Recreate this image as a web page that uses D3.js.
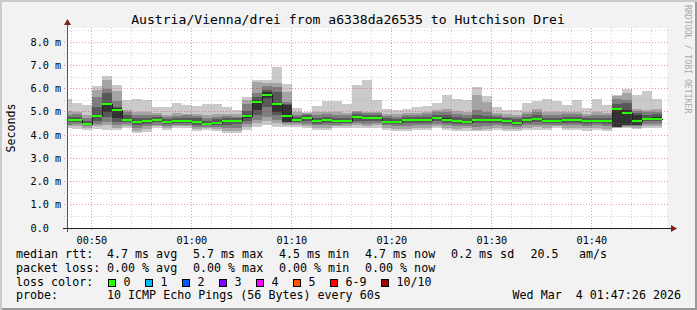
<!DOCTYPE html>
<html>
<head>
<meta charset="utf-8">
<script src="https://cdn.jsdelivr.net/npm/d3@7"></script>
<style>
  body { margin: 0; background: #f0f0f0; }
  text { font-family: "DejaVu Sans Mono", monospace; fill: #000; }
</style>
</head>
<body>
<svg id="chart" width="697" height="310"></svg>
<script>
// minute buckets (start of each 60s step)
var minutes = ["00:47","00:48","00:49","00:50","00:51","00:52","00:53","00:54","00:55","00:56",
  "00:57","00:58","00:59","01:00","01:01","01:02","01:03","01:04","01:05","01:06",
  "01:07","01:08","01:09","01:10","01:11","01:12","01:13","01:14","01:15","01:16",
  "01:17","01:18","01:19","01:20","01:21","01:22","01:23","01:24","01:25","01:26",
  "01:27","01:28","01:29","01:30","01:31","01:32","01:33","01:34","01:35","01:36",
  "01:37","01:38","01:39","01:40","01:41","01:42","01:43","01:44","01:45","01:46"];

// 10 sorted ping rtts per step, in ms
var pings = [
  [4.30,4.38,4.45,4.55,4.62,4.70,4.78,4.88,5.05,5.56],
  [4.28,4.38,4.48,4.56,4.63,4.70,4.80,4.90,5.00,5.40],
  [4.22,4.30,4.38,4.44,4.48,4.53,4.62,4.72,4.85,5.30],
  [4.25,4.40,4.50,4.62,4.78,4.88,5.23,5.65,5.95,6.10],
  [4.23,4.44,4.58,4.80,4.99,5.37,5.80,6.00,6.40,6.55],
  [4.23,4.30,4.44,4.59,4.73,5.16,5.23,5.49,5.90,6.15],
  [4.30,4.40,4.48,4.56,4.62,4.70,4.85,5.00,5.10,5.50],
  [4.10,4.20,4.32,4.45,4.53,4.62,4.72,4.85,5.00,5.58],
  [4.15,4.25,4.38,4.50,4.57,4.66,4.75,4.88,5.02,5.50],
  [4.30,4.38,4.46,4.55,4.62,4.70,4.78,4.85,4.95,5.23],
  [4.23,4.32,4.40,4.48,4.54,4.62,4.70,4.78,4.88,5.23],
  [4.30,4.38,4.45,4.52,4.57,4.64,4.72,4.82,4.95,5.40],
  [4.30,4.38,4.45,4.52,4.57,4.65,4.75,4.85,4.92,5.30],
  [4.16,4.25,4.35,4.45,4.53,4.62,4.72,4.82,4.92,5.26],
  [4.23,4.30,4.36,4.42,4.46,4.53,4.62,4.72,4.85,5.34],
  [4.16,4.25,4.35,4.44,4.50,4.58,4.68,4.78,4.90,5.34],
  [4.08,4.18,4.30,4.45,4.56,4.66,4.74,4.82,4.92,5.20],
  [4.10,4.20,4.32,4.47,4.57,4.65,4.72,4.80,4.90,5.09],
  [4.23,4.35,4.48,4.62,4.76,4.88,5.05,5.34,5.50,5.63],
  [4.37,4.51,4.66,4.87,5.09,5.51,5.66,5.80,6.29,6.37],
  [4.43,4.60,4.80,5.20,5.60,5.85,5.95,6.10,6.26,6.37],
  [4.37,4.51,4.66,4.87,5.01,5.37,5.87,6.09,6.26,6.96],
  [4.37,4.44,4.52,4.56,4.59,5.30,5.35,5.44,5.87,6.20],
  [4.37,4.45,4.52,4.58,4.63,4.70,4.78,4.88,5.01,5.16],
  [4.30,4.40,4.50,4.60,4.68,4.78,4.85,4.90,4.95,5.00],
  [4.23,4.33,4.42,4.50,4.57,4.65,4.75,4.88,4.98,5.26],
  [4.23,4.33,4.43,4.53,4.62,4.70,4.80,4.90,5.00,5.49],
  [4.30,4.38,4.45,4.52,4.57,4.65,4.75,4.88,4.98,5.49],
  [4.33,4.40,4.47,4.53,4.58,4.65,4.75,4.85,4.95,5.34],
  [4.30,4.42,4.52,4.62,4.74,4.84,4.92,4.98,5.05,6.16],
  [4.30,4.40,4.50,4.60,4.70,4.78,4.88,4.95,5.02,6.37],
  [4.30,4.42,4.52,4.62,4.70,4.78,4.86,4.94,5.00,5.51],
  [4.23,4.32,4.42,4.48,4.54,4.62,4.72,4.82,4.92,5.11],
  [4.16,4.28,4.38,4.47,4.53,4.62,4.70,4.80,4.90,5.09],
  [4.16,4.28,4.40,4.52,4.62,4.70,4.78,4.86,4.95,5.13],
  [4.23,4.33,4.43,4.53,4.62,4.70,4.78,4.86,4.95,5.20],
  [4.23,4.33,4.43,4.53,4.62,4.70,4.80,4.90,5.00,5.26],
  [4.30,4.40,4.50,4.60,4.70,4.78,4.88,4.98,5.10,5.40],
  [4.23,4.33,4.43,4.53,4.62,4.72,4.85,5.00,5.15,5.74],
  [4.16,4.28,4.38,4.48,4.56,4.66,4.78,4.92,5.05,5.54],
  [4.20,4.30,4.40,4.48,4.53,4.62,4.72,4.85,5.00,5.52],
  [4.16,4.23,4.37,4.52,4.62,4.70,4.85,5.09,5.75,6.06],
  [4.16,4.25,4.38,4.52,4.62,4.70,4.82,5.00,5.44,5.69],
  [4.23,4.33,4.43,4.53,4.62,4.70,4.78,4.86,4.95,5.20],
  [4.16,4.28,4.40,4.50,4.57,4.65,4.72,4.80,4.90,5.09],
  [4.16,4.26,4.36,4.45,4.50,4.58,4.68,4.78,4.88,5.09],
  [4.23,4.33,4.43,4.53,4.62,4.70,4.80,4.92,5.02,5.40],
  [4.23,4.35,4.45,4.56,4.66,4.76,4.86,4.98,5.12,5.49],
  [4.23,4.33,4.43,4.52,4.57,4.65,4.75,4.88,5.02,5.56],
  [4.30,4.38,4.45,4.52,4.57,4.65,4.75,4.88,5.00,5.49],
  [4.23,4.33,4.43,4.53,4.62,4.70,4.80,4.90,5.00,5.30],
  [4.23,4.33,4.43,4.53,4.62,4.70,4.80,4.90,5.02,5.51],
  [4.20,4.30,4.40,4.50,4.57,4.65,4.73,4.82,4.92,5.16],
  [4.23,4.33,4.43,4.52,4.57,4.65,4.75,4.88,5.00,5.56],
  [4.16,4.28,4.38,4.48,4.56,4.65,4.75,4.85,4.95,5.30],
  [4.30,4.33,4.35,4.36,4.37,5.16,5.35,5.54,5.68,5.73],
  [4.30,4.36,4.40,4.42,4.44,5.09,5.37,5.51,5.80,6.01],
  [4.28,4.33,4.38,4.42,4.45,4.85,4.95,5.05,5.15,5.73],
  [4.30,4.40,4.50,4.60,4.67,4.76,4.86,4.98,5.10,5.90],
  [4.30,4.40,4.50,4.60,4.67,4.78,4.90,5.00,5.12,5.56]
];

// median rtt per step, in ms
var median = [4.66,4.66,4.50,4.83,5.36,5.07,4.66,4.57,4.61,4.66,
  4.57,4.60,4.60,4.57,4.49,4.54,4.61,4.61,4.83,5.43,
  5.74,5.36,4.83,4.66,4.73,4.61,4.66,4.61,4.61,4.79,
  4.74,4.74,4.57,4.57,4.66,4.66,4.66,4.74,4.66,4.61,
  4.57,4.66,4.66,4.66,4.61,4.54,4.66,4.71,4.61,4.61,
  4.66,4.66,4.61,4.61,4.61,5.14,4.97,4.61,4.71,4.71];

var yTicks = [0, 1, 2, 3, 4, 5, 6, 7, 8];
var yLabels = ["0.0", "1.0 m", "2.0 m", "3.0 m", "4.0 m", "5.0 m", "6.0 m", "7.0 m", "8.0 m"];

var smokeGreys = ["#cacaca", "#a4a4a4", "#7e7e7e", "#585858", "#323232"];

var lossLabels = ["0", "1", "2", "3", "4", "5", "6-9", "10/10"];
var lossColors = ["#26ff00", "#00b8ff", "#0059ff", "#7e00ff", "#ff00ff", "#ff5500", "#ff0000", "#a10000"];
var lossX = [108.5, 145.5, 182.5, 219.5, 256.5, 293.5, 330.5, 381.5];

var rttItems = ["4.7 ms avg", "5.7 ms max", "4.5 ms min", "4.7 ms now", "0.2 ms sd", "20.5", "am/s"];
var rttX = [107, 193, 279, 365, 451, 530.5, 579];
var lossItems = ["0.00 % avg", "0.00 % max", "0.00 % min", "0.00 % now"];
var lossItemX = [107, 193, 279, 365];

var W = 697, H = 310;
var pLeft = 67, pRight = 667, pTop = 28, pBottom = 228;

var svg = d3.select("#chart");

// frame
svg.append("rect").attr("x", 0).attr("y", 0).attr("width", W).attr("height", H).attr("fill", "#cbcbcb");
svg.append("rect").attr("x", 2).attr("y", 2).attr("width", W - 2).attr("height", H - 2).attr("fill", "#999999");
svg.append("rect").attr("x", 2).attr("y", 2).attr("width", W - 4).attr("height", H - 4).attr("fill", "#f2f2f2");

// canvas
svg.append("rect").attr("x", pLeft).attr("y", pTop).attr("width", pRight - pLeft).attr("height", pBottom - pTop).attr("fill", "#fff");

var t0 = new Date(2026, 2, 4, 0, 47, 34);
var t1 = new Date(2026, 2, 4, 1, 47, 34);
var x = d3.scaleTime().domain([t0, t1]).range([pLeft, pRight]);
var y = d3.scaleLinear().domain([0, 8.62]).range([pBottom, pTop]);

var parseT = d3.timeParse("%Y-%m-%d %H:%M:%S");
var steps = minutes.map(function(m, i) {
  var s = parseT("2026-03-04 " + m + ":02");
  return { start: s, end: new Date(s.getTime() + 60000), p: pings[i], med: median[i] };
});

svg.append("clipPath").attr("id", "clip")
  .append("rect").attr("x", pLeft).attr("y", pTop).attr("width", pRight - pLeft).attr("height", pBottom - pTop);

var plot = svg.append("g").attr("clip-path", "url(#clip)").attr("shape-rendering", "crispEdges");

// smoke: outer pair lightest, inner pair darkest
smokeGreys.forEach(function(col, k) {
  plot.selectAll(".smoke" + k)
    .data(steps)
    .enter()
    .append("rect")
    .attr("x", function(d) { return Math.round(x(d.start)); })
    .attr("width", function(d) { return Math.round(x(d.end)) - Math.round(x(d.start)); })
    .attr("y", function(d) { return Math.round(y(d.p[9 - k])); })
    .attr("height", function(d) { return Math.max(1, Math.round(y(d.p[k])) - Math.round(y(d.p[9 - k]))); })
    .attr("fill", col);
});

// grid on top
var grid = svg.append("g").attr("shape-rendering", "crispEdges");
var minorT = d3.timeMinute.every(2).range(t0, t1);
minorT.forEach(function(t) {
  var px = Math.floor(x(t)) + 0.5;
  var major = t.getMinutes() % 10 === 0;
  grid.append("line").attr("x1", px).attr("x2", px).attr("y1", pTop).attr("y2", pBottom + 3)
    .attr("stroke", major ? "rgba(200,40,40,0.45)" : "rgba(140,140,140,0.4)")
    .attr("stroke-dasharray", "1,2");
});
d3.range(0.5, 8.6, 0.5).forEach(function(v) {
  var py = Math.floor(y(v)) + 0.5;
  var major = v % 1 === 0;
  grid.append("line").attr("x1", pLeft - 3).attr("x2", pRight + 2).attr("y1", py).attr("y2", py)
    .attr("stroke", major ? "rgba(200,40,40,0.45)" : "rgba(140,140,140,0.4)")
    .attr("stroke-dasharray", "1,2");
});

// median: dark step line, then green segments
var pts = [];
steps.forEach(function(d) {
  pts.push([Math.round(x(d.start)), Math.round(y(d.med))]);
  pts.push([Math.round(x(d.end)), Math.round(y(d.med))]);
});
plot.append("path")
  .attr("d", d3.line().x(function(d) { return d[0] + 0.5; }).y(function(d) { return d[1] + 0.5; })(pts))
  .attr("fill", "none").attr("stroke", "#202020").attr("stroke-width", 1);

plot.selectAll(".med")
  .data(steps)
  .enter()
  .append("rect")
  .attr("x", function(d) { return Math.round(x(d.start)); })
  .attr("width", function(d) { return Math.round(x(d.end)) - Math.round(x(d.start)); })
  .attr("y", function(d) { return Math.round(y(d.med)) - 1; })
  .attr("height", 2)
  .attr("fill", lossColors[0]);

// axes
svg.append("line").attr("x1", pLeft + 0.5).attr("x2", pLeft + 0.5).attr("y1", pBottom + 4).attr("y2", pTop - 4)
  .attr("stroke", "#555").attr("shape-rendering", "crispEdges");
svg.append("line").attr("x1", pLeft - 4).attr("x2", pRight + 4).attr("y1", pBottom + 0.5).attr("y2", pBottom + 0.5)
  .attr("stroke", "#222").attr("shape-rendering", "crispEdges");
svg.append("path").attr("d", "M" + (pLeft + 0.5) + "," + (pTop - 9) + "l-3.5,6h7z").attr("fill", "#7f1f1f");
svg.append("path").attr("d", "M" + (pRight + 10) + "," + (pBottom + 0.5) + "l-6,-3.5v7z").attr("fill", "#7f1f1f");

// y labels
svg.selectAll(".ylab")
  .data(yTicks)
  .enter()
  .append("text")
  .attr("x", 30.5)
  .attr("y", function(d) { return Math.floor(y(d)) + 4; })
  .attr("font-size", "10.2px")
  .text(function(d, i) { return yLabels[i]; });

// x labels
var xAxis = d3.axisBottom(x).ticks(d3.timeMinute.every(10)).tickFormat(d3.timeFormat("%H:%M")).tickSize(0);
var xg = svg.append("g").attr("transform", "translate(0," + (pBottom + 13) + ")").call(xAxis);
xg.select(".domain").remove();
xg.selectAll("text").attr("dy", 0).attr("font-size", "10.2px")
  .attr("font-family", "DejaVu Sans Mono").attr("fill", "#000");

// title
svg.append("text").attr("x", 348).attr("y", 24).attr("text-anchor", "middle").attr("font-size", "13.1px")
  .text("Austria/Vienna/drei from a6338da26535 to Hutchison Drei");

// unit label
svg.append("text").attr("transform", "translate(15,128) rotate(-90)").attr("text-anchor", "middle")
  .attr("font-size", "11.6px").text("Seconds");

// watermark
svg.append("text").attr("transform", "translate(684.5,5) rotate(90)")
  .attr("font-size", "8.2px").style("fill", "#a8a8a8").text("RRDTOOL / TOBI OETIKER");

// legend
var fs = "11.67px";
function row(label, yy) {
  svg.append("text").attr("x", 16).attr("y", yy).attr("font-size", fs).text(label);
}
row("median rtt:", 258);
rttItems.forEach(function(s, i) {
  svg.append("text").attr("x", rttX[i]).attr("y", 258).attr("font-size", fs).text(s);
});
row("packet loss:", 272);
lossItems.forEach(function(s, i) {
  svg.append("text").attr("x", lossItemX[i]).attr("y", 272).attr("font-size", fs).text(s);
});
row("loss color:", 285.5);
lossLabels.forEach(function(s, i) {
  svg.append("rect").attr("x", lossX[i]).attr("y", 279.5).attr("width", 7).attr("height", 7)
    .attr("fill", lossColors[i]).attr("stroke", "#000").attr("shape-rendering", "crispEdges");
  svg.append("text").attr("x", lossX[i] + 15).attr("y", 285.5).attr("font-size", fs).text(s);
});
row("probe:", 299);
svg.append("text").attr("x", 107).attr("y", 299).attr("font-size", fs)
  .text("10 ICMP Echo Pings (56 Bytes) every 60s");
svg.append("text").attr("x", 681).attr("y", 299).attr("text-anchor", "end").attr("font-size", fs)
  .style("white-space", "pre").text("Wed Mar  4 01:47:26 2026");
</script>
</body>
</html>
